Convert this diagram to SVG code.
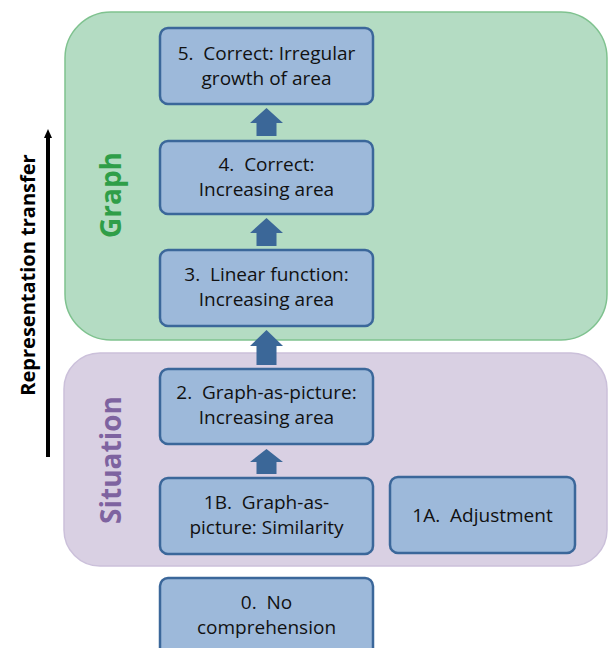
<svg xmlns="http://www.w3.org/2000/svg" width="608" height="648" viewBox="0 0 608 648">
<style>
.node rect{fill:#9db9da;stroke:#3b679a;stroke-width:2.5}
.node text{font-family:"Open Sans","Liberation Sans",sans-serif;font-size:19px;fill:#111;text-anchor:middle;white-space:pre}
.blk{fill:#3b6798}
.lbl{font-family:"Open Sans","Liberation Sans",sans-serif;font-weight:bold;text-anchor:middle}
</style>
<defs>
<marker id="ah" markerWidth="10" markerHeight="10" refX="2" refY="5" orient="auto" markerUnits="userSpaceOnUse" viewBox="0 0 10 10">
<path d="M0,1 L9,5 L0,9 Z" fill="#000"/>
</marker>
</defs>
<g id="panel-graph">
<rect x="65" y="12" width="542" height="328" rx="46" fill="#b4dcc3" stroke="#7fc28f" stroke-width="1.5"/>
<text class="lbl" transform="translate(110,195) rotate(-90)" font-size="28" fill="#2f9e48" dominant-baseline="central">Graph</text>
</g>
<g id="panel-situation">
<rect x="64" y="353" width="543" height="213" rx="36" fill="#d9d0e3" stroke="#cbc0da" stroke-width="1.5"/>
<text class="lbl" transform="translate(110,460) rotate(-90)" font-size="28" fill="#7e63a0" dominant-baseline="central">Situation</text>
</g>
<g id="transfer">
<line x1="48" y1="457" x2="48" y2="136" stroke="#000" stroke-width="4" marker-end="url(#ah)"/>
<text class="lbl" transform="translate(27,275) rotate(-90)" font-size="20" fill="#000" dominant-baseline="central">Representation transfer</text>
</g>
<g id="connectors">
<path class="blk" d="M266.5,108 L283,123 L276.5,123 L276.5,136 L256.5,136 L256.5,123 L250,123 Z"/>
<path class="blk" d="M266.5,218 L283,233 L276.5,233 L276.5,246 L256.5,246 L256.5,233 L250,233 Z"/>
<path class="blk" d="M266.5,330 L283,346 L276.5,346 L276.5,365 L256.5,365 L256.5,346 L250,346 Z"/>
<path class="blk" d="M266.5,449 L283,462 L276.5,462 L276.5,474 L256.5,474 L256.5,462 L250,462 Z"/>
</g>
<g id="n5" class="node">
<rect x="160" y="28" width="213" height="76" rx="8"/>
<text x="266.5" y="60">5.  Correct: Irregular</text>
<text x="266.5" y="85">growth of area</text>
</g>
<g id="n4" class="node">
<rect x="160" y="141" width="213" height="73" rx="8"/>
<text x="266.5" y="171">4.  Correct:</text>
<text x="266.5" y="196">Increasing area</text>
</g>
<g id="n3" class="node">
<rect x="160" y="250" width="213" height="76" rx="8"/>
<text x="266.5" y="281">3.  Linear function:</text>
<text x="266.5" y="306">Increasing area</text>
</g>
<g id="n2" class="node">
<rect x="160" y="369" width="213" height="75" rx="8"/>
<text x="266.5" y="399">2.  Graph-as-picture:</text>
<text x="266.5" y="424">Increasing area</text>
</g>
<g id="n1b" class="node">
<rect x="160" y="478" width="213" height="76" rx="8"/>
<text x="266.5" y="509">1B.  Graph-as-</text>
<text x="266.5" y="534">picture: Similarity</text>
</g>
<g id="n1a" class="node">
<rect x="390" y="477" width="185" height="76" rx="8"/>
<text x="482.5" y="522">1A.  Adjustment</text>
</g>
<g id="n0" class="node">
<rect x="160" y="578" width="213" height="90" rx="8"/>
<text x="266.5" y="609">0.  No</text>
<text x="266.5" y="634">comprehension</text>
</g>
</svg>
